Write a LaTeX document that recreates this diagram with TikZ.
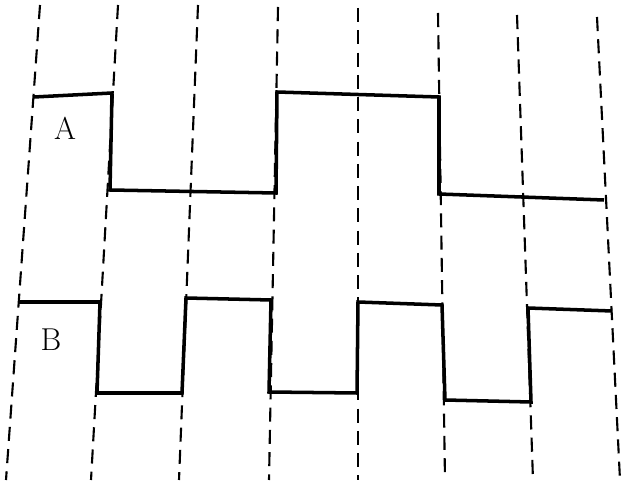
\documentclass[tikz,border=0pt]{standalone}
\usepackage{tikz}
\begin{document}
\begin{tikzpicture}[x=0.03cm,y=-0.03cm,
	guide/.style={line width=1.8pt,dash pattern=on 12pt off 7pt},
	pulse/.style={line width=3pt,line join=miter},
	tag/.style={font=\fontsize{27}{30}\selectfont}]
				\useasboundingbox (0,0) rectangle (621,489);
				\draw[guide] (40,5)--(6,480);
				\draw[guide] (118,5)--(91,480);
				\draw[guide] (198,5)--(179,480);
				\draw[guide] (278,7)--(269,480);
				\draw[guide] (358,8)--(358,480);
				\draw[guide] (438,13)--(445,480);
				\draw[guide] (517,15)--(533,480);
				\draw[guide] (597,17)--(620,480);
				\draw[pulse] (34,97)--(112,93)--(110,190)--(276,193)--(277,92)--(439,97)--(439,194)--(604,200);
				\draw[pulse] (19,302)--(100,302)--(97,393)--(182,393)--(186,298)--(271,300)--(269,392)--(357,393)--(358,302)--(442,305)--(445,400)--(531,402)--(528,308)--(612,311);
				\node[tag] (labelA) at (65,128) {A};
				\node[tag] (labelB) at (51,340) {B};
			\end{tikzpicture}
\end{document}
